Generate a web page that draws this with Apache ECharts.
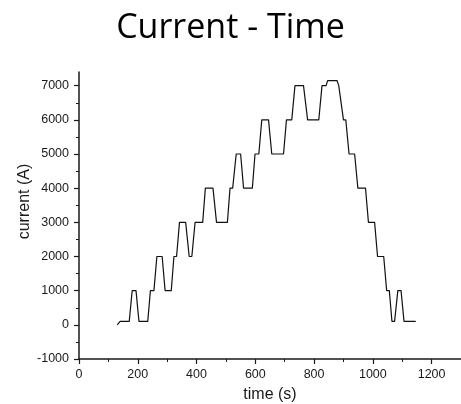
<!DOCTYPE html>
<html>
<head>
<meta charset="utf-8">
<script src="https://cdn.jsdelivr.net/npm/echarts@6/dist/echarts.min.js"></script>
<style>
  html, body { margin: 0; padding: 0; background: #fff; }
  #chart { width: 461px; height: 404px; }
</style>
</head>
<body>
<div id="chart"></div>
<script>
// Measured current profile: time (s) and current (A)
const timeS = [130, 140, 171, 181, 194, 204, 234, 243, 255, 265, 283, 293, 314, 323, 332, 342, 363, 375, 384, 395,
  421, 430, 456, 468, 505, 514, 523, 535, 550, 560, 590, 599, 612, 622, 645, 656, 696, 706, 724, 735,
  764, 778, 816, 827, 841, 846, 878, 884, 889, 900, 908, 919, 938, 949, 975, 985, 1006, 1016, 1037, 1047,
  1056, 1065, 1074, 1085, 1096, 1106, 1146];
const currentA = [0, 100, 100, 1000, 1000, 100, 100, 1000, 1000, 2000, 2000, 1000, 1000, 2000, 2000, 3000, 3000, 2000, 2000, 3000,
  3000, 4000, 4000, 3000, 3000, 4000, 4000, 5000, 5000, 4000, 4000, 5000, 5000, 6000, 6000, 5000, 5000, 6000, 6000, 7000,
  7000, 6000, 6000, 7000, 7000, 7150, 7150, 7000, 7000, 6000, 6000, 5000, 5000, 4000, 4000, 3000, 3000, 2000, 2000, 1000,
  1000, 100, 100, 1000, 1000, 100, 100];

// Axis ticks
const xMajorTicks = [0, 200, 400, 600, 800, 1000, 1200];
const xMinorTicks = [100, 300, 500, 700, 900, 1100, 1300];
const yMajorTicks = [-1000, 0, 1000, 2000, 3000, 4000, 5000, 6000, 7000];
const yMinorTicks = [-500, 500, 1500, 2500, 3500, 4500, 5500, 6500];

const points = timeS.map((t, i) => [t, currentA[i]]);

const axisColor = '#1a1a1a';
const labelFont = { fontFamily: 'Liberation Sans, Arial, sans-serif', fontSize: 12.5, color: '#1a1a1a' };
const nameFont = { fontFamily: 'Liberation Sans, Arial, sans-serif', fontSize: 16, color: '#1a1a1a' };
const plain = v => String(v);

const chart = echarts.init(document.getElementById('chart'), null, { renderer: 'canvas' });
chart.setOption({
  animation: false,
  backgroundColor: '#ffffff',
  title: {
    text: 'Current - Time',
    left: 'center',
    top: 6,
    textStyle: { fontFamily: 'Open Sans, sans-serif', fontSize: 34, fontWeight: 'normal', color: '#000' }
  },
  grid: { left: 79, right: 0, top: 72, bottom: 45, containLabel: false, outerBoundsMode: 'none' },
  xAxis: [
    {
      type: 'value', min: 0, max: 1300, position: 'bottom',
      name: 'time (s)', nameLocation: 'middle', nameGap: 28,
      nameTextStyle: nameFont,
      axisLine: { show: true, onZero: false, lineStyle: { color: axisColor, width: 1.5 } },
      axisTick: { show: true, inside: false, length: 5, customValues: xMajorTicks, lineStyle: { color: axisColor, width: 1.2 } },
      axisLabel: { show: true, margin: 9, customValues: xMajorTicks, formatter: plain, ...labelFont },
      splitLine: { show: false }
    },
    {
      type: 'value', min: 0, max: 1300, position: 'bottom',
      axisLine: { show: false, onZero: false },
      axisTick: { show: true, inside: false, length: 3, customValues: xMinorTicks, lineStyle: { color: axisColor, width: 1 } },
      axisLabel: { show: false },
      splitLine: { show: false }
    }
  ],
  yAxis: [
    {
      type: 'value', min: -1000, max: 7400, position: 'left',
      name: 'current (A)', nameLocation: 'middle', nameGap: 46, nameMoveOverlap: false,
      nameTextStyle: { ...nameFont, padding: [0, 0, 0, 28] },
      axisLine: { show: true, onZero: false, lineStyle: { color: axisColor, width: 1.5 } },
      axisTick: { show: true, inside: false, length: 5, customValues: yMajorTicks, lineStyle: { color: axisColor, width: 1.2 } },
      axisLabel: { show: true, margin: 10, customValues: yMajorTicks, formatter: plain, ...labelFont },
      splitLine: { show: false }
    },
    {
      type: 'value', min: -1000, max: 7400, position: 'left',
      axisLine: { show: false, onZero: false },
      axisTick: { show: true, inside: false, length: 3, customValues: yMinorTicks, lineStyle: { color: axisColor, width: 1 } },
      axisLabel: { show: false },
      splitLine: { show: false }
    }
  ],
  series: [
    {
      type: 'line',
      xAxisIndex: 0,
      yAxisIndex: 0,
      data: points,
      showSymbol: false,
      symbol: 'none',
      lineStyle: { color: '#111', width: 1.2 }
    }
  ]
});
</script>
</body>
</html>
